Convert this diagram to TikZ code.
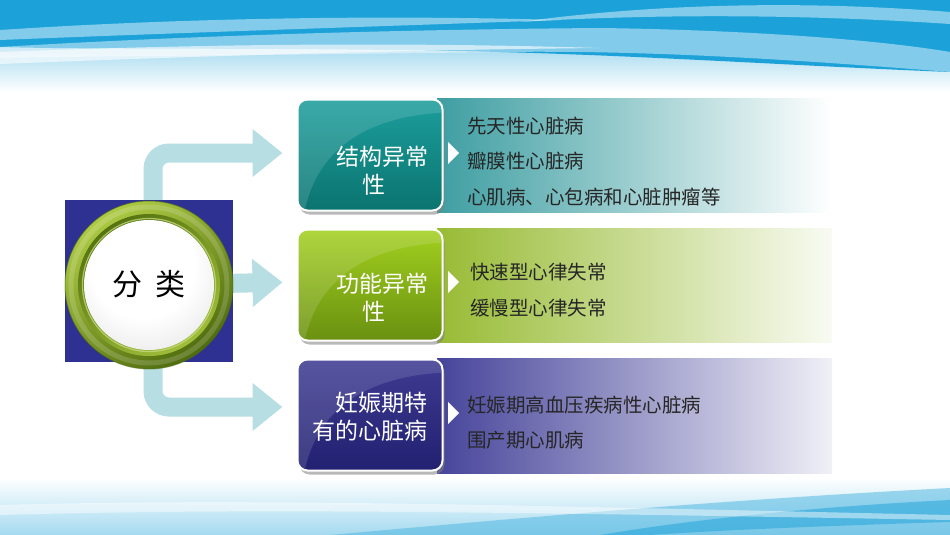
\documentclass[tikz,border=0pt]{standalone}
\usepackage{fontspec}
\setmainfont{Noto Sans CJK SC}
\usetikzlibrary{arrows.meta,shadows}
\definecolor{wblue}{HTML}{1CA2D9}
\definecolor{arrowc}{HTML}{B7DEE2}
\definecolor{sqblue}{HTML}{2E3192}
\definecolor{tealA}{HTML}{1C9E9C}
\definecolor{tealB}{HTML}{0B7470}
\definecolor{grnA}{HTML}{A2D020}
\definecolor{grnB}{HTML}{6A9010}
\definecolor{navA}{HTML}{3E3B92}
\definecolor{navB}{HTML}{222070}
\definecolor{bandA}{HTML}{3E9EA2}
\definecolor{bandB}{HTML}{98BB34}
\definecolor{bandC}{HTML}{46449A}
\definecolor{ringHi}{HTML}{AECB44}
\definecolor{ringLo}{HTML}{4F6C0E}
\definecolor{grooveHi}{HTML}{A0BE3A}
\definecolor{grooveLo}{HTML}{55740F}
\pgfdeclareradialshading{spherefill}{\pgfpoint{-4bp}{12bp}}{color(0bp)=(white); color(20bp)=(white); color(36bp)=(black!10); color(46bp)=(black!28); color(50bp)=(black!50)}
\begin{document}
\begin{tikzpicture}[x=1pt,y=-1pt,
  catbox/.style={rounded corners=10pt, draw=white, line width=2pt,
    minimum width=145pt, minimum height=111pt,
    drop shadow={shadow xshift=2pt,shadow yshift=-4pt,opacity=0.55}},
  cattxt/.style={text=white, align=center, font=\fontsize{23}{28}\selectfont, inner sep=0pt},
  itemtxt/.style={anchor=west, font=\fontsize{19.5}{21}\selectfont, text=black!85, inner sep=0pt},
  arrowbar/.style={draw=arrowc, line width=19pt, rounded corners=16pt,
    -{Triangle[length=30pt,width=46pt]}, shorten >=14pt},
  notch/.style={fill=white},
  streak/.style={fill=white, opacity=0.45}
]
\useasboundingbox (0,0) rectangle (950,535);
\fill[white] (0,0) rectangle (950,535);
% ---- top waves
\shade[top color=wblue!45, bottom color=white] (0,40) rectangle (950,92);
\fill[wblue] (0,0) -- (950,0) -- (950,72) .. controls (800,66) and (650,56) .. (500,52) .. controls (300,47) and (100,50) .. (0,47) -- cycle;
\fill[streak] (0,30) .. controls (150,20) and (350,14) .. (560,20) .. controls (420,25) and (200,32) .. (0,40) -- cycle;
\fill[streak] (520,22) .. controls (650,4) and (800,0) .. (950,12) -- (950,24) .. controls (800,14) and (650,14) .. (520,22) -- cycle;
\fill[streak] (0,47) .. controls (150,38) and (350,30) .. (600,28) .. controls (750,30) and (880,40) .. (950,52) -- (950,72) .. controls (800,60) and (650,50) .. (500,52) .. controls (300,55) and (100,56) .. (0,58) -- cycle;
\fill[white, opacity=0.6] (0,52) .. controls (200,44) and (400,42) .. (600,48) .. controls (400,50) and (200,56) .. (0,64) -- cycle;
% ---- bottom waves
\shade[top color=white, bottom color=wblue!40] (0,478) rectangle (950,535);
\fill[wblue!75, opacity=0.55] (330,535) .. controls (520,518) and (720,500) .. (950,488) -- (950,535) -- cycle;
\fill[wblue, opacity=0.5] (600,535) .. controls (720,515) and (850,505) .. (950,500) -- (950,522) .. controls (850,525) and (720,530) .. (650,535) -- cycle;
\fill[streak] (0,505) .. controls (250,498) and (500,505) .. (950,515) -- (950,520) .. controls (500,512) and (250,508) .. (0,515) -- cycle;
% ---- gradient bands
\shade[left color=bandA, right color=white] (437,98) rectangle (832,212);
\shade[left color=bandB, right color=bandB!6] (437,228) rectangle (832,342);
\shade[left color=bandC, right color=bandC!8] (437,358) rectangle (832,473);
\fill[notch] (448,142) -- (459,153) -- (448,164) -- cycle;
\fill[notch] (448,271) -- (459,282) -- (448,293) -- cycle;
\fill[notch] (448,402) -- (459,413) -- (448,424) -- cycle;
% ---- category boxes
\node[catbox, top color=tealA, bottom color=tealB] (b1) at (370,155) {};
\node[catbox, top color=grnA, bottom color=grnB] (b2) at (370,285) {};
\node[catbox, top color=navA, bottom color=navB] (b3) at (370,415) {};
\foreach \b in {b1,b2,b3}{
  \begin{scope}
    \clip[rounded corners=9pt] ([shift={(1pt,-1pt)}]\b.north west) rectangle ([shift={(-1pt,1pt)}]\b.south east);
    \fill[white, opacity=0.13] (\b.north west) -- (\b.north east) -- ([yshift=-14pt]\b.north east)
      .. controls ([shift={(-70pt,-18pt)}]\b.north east) and ([shift={(22pt,-45pt)}]\b.north west) .. ([xshift=8pt]\b.south west) -- (\b.south west) -- cycle;
  \end{scope}
}
\node[cattxt] (l1) at ([shift={(4pt,-16pt)}]b1.center) {\hspace*{16pt}结构异常\\性};
\node[cattxt] (l2) at ([shift={(4pt,-13pt)}]b2.center) {\hspace*{16pt}功能异常\\性};
\node[cattxt, align=right] (l3) at ([shift={(0pt,-2pt)}]b3.center) {妊娠期特\\有的心脏病};
% ---- items
\node[itemtxt] (t11) at (467,126) {先天性心脏病};
\node[itemtxt] (t12) at (467,161) {瓣膜性心脏病};
\node[itemtxt] (t13) at (467,197) {心肌病、心包病和心脏肿瘤等};
\node[itemtxt] (t21) at (470,272) {快速型心律失常};
\node[itemtxt] (t22) at (470,308) {缓慢型心律失常};
\node[itemtxt] (t31) at (467,405) {妊娠期高血压疾病性心脏病};
\node[itemtxt] (t32) at (467,440) {围产期心肌病};
% ---- arrows
\coordinate (hub) at (149,285);
\draw[arrowbar] ([xshift=4pt]hub) |- ([yshift=2pt]b1.west);
\draw[arrowbar] ([xshift=4pt]hub) |- ([yshift=8pt]b3.west);
\draw[arrowbar] (hub) -- ([yshift=3pt]b2.west);
% ---- hub square and button
\fill[sqblue] (65,200) rectangle (233,362);
\shade[top color=ringHi, bottom color=ringLo, shading angle=35] (hub) circle (84pt);
\draw[white, opacity=0.16, line width=5pt] (hub) circle (78pt);
\draw[ringLo, opacity=0.5, line width=1pt] (hub) circle (84pt);
\shade[top color=grooveLo, bottom color=grooveHi, shading angle=35] (hub) circle (71pt);
\draw[ringHi!60!white, opacity=0.7, line width=1.2pt] (hub) circle (66.5pt);
\shade[shading=spherefill] (hub) circle (65pt);
\node[font=\fontsize{30}{30}\selectfont, text=black] (cls) at ([yshift=1pt]hub) {分\hspace{13pt}类};
\end{tikzpicture}
\end{document}
